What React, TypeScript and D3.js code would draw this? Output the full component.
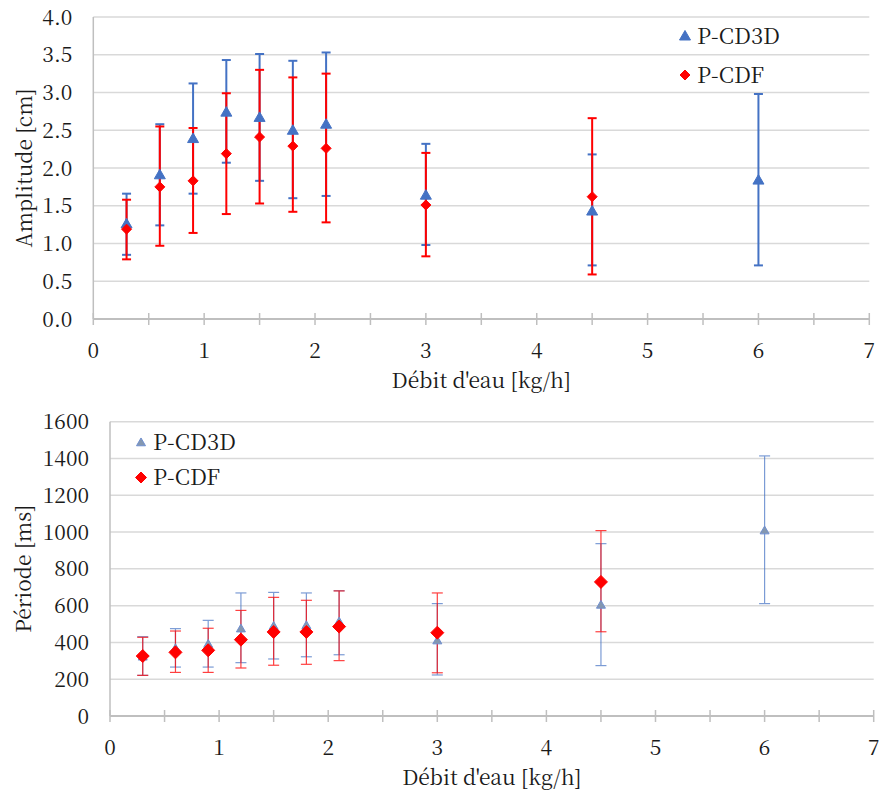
import React from "react";
import * as d3 from "d3";

// ---------- Data ----------
const xCd3d = [0.3, 0.6, 0.9, 1.2, 1.5, 1.8, 2.1, 3, 4.5, 6];
const xCdf = [0.3, 0.6, 0.9, 1.2, 1.5, 1.8, 2.1, 3, 4.5];

// Amplitude [cm]
const ampCd3d = [1.26, 1.91, 2.39, 2.74, 2.67, 2.5, 2.58, 1.64, 1.43, 1.84];
const ampCd3dHigh = [1.66, 2.58, 3.12, 3.43, 3.51, 3.42, 3.53, 2.32, 2.18, 2.98];
const ampCd3dLow = [0.85, 1.24, 1.66, 2.07, 1.83, 1.6, 1.63, 0.98, 0.71, 0.71];
const ampCdf = [1.19, 1.75, 1.83, 2.19, 2.41, 2.29, 2.26, 1.51, 1.62];
const ampCdfHigh = [1.58, 2.55, 2.53, 2.99, 3.3, 3.2, 3.25, 2.2, 2.66];
const ampCdfLow = [0.79, 0.97, 1.14, 1.39, 1.53, 1.42, 1.28, 0.83, 0.59];

// Période [ms]
const perCd3d = [322, 368, 391, 475, 489, 493, 513, 410, 604, 1008];
const perCd3dHigh = [431, 475, 520, 669, 672, 669, 681, 611, 937, 1414];
const perCd3dLow = [221, 266, 266, 290, 310, 322, 333, 223, 274, 611];
const perCdf = [326, 346, 357, 415, 457, 457, 486, 453, 729];
const perCdfHigh = [428, 462, 477, 574, 645, 629, 680, 669, 1008];
const perCdfLow = [221, 237, 237, 261, 276, 281, 301, 235, 458];

const xTicks = [0, 1, 2, 3, 4, 5, 6, 7];
const xMinorTicks = [0, 0.5, 1, 1.5, 2, 2.5, 3, 3.5, 4, 4.5, 5, 5.5, 6, 6.5, 7];
const ampTicks = [0, 0.5, 1, 1.5, 2, 2.5, 3, 3.5, 4];
const perTicks = [0, 200, 400, 600, 800, 1000, 1200, 1400, 1600];

const seriesNames = ["P-CD3D", "P-CDF"];
const xTitle = "Débit d'eau [kg/h]";
const ampTitle = "Amplitude [cm]";
const perTitle = "Période [ms]";

const FONT = "Noto Serif CJK JP";

type Series = {
  xs: number[];
  ys: number[];
  hi: number[];
  lo: number[];
  kind: "triangle" | "diamond";
  fill: string;
  stroke: string;
  size: number;
  barColor: string;
  barWidth: number;
  barOpacity: number;
  capW: number;
};

function markerPath(kind: "triangle" | "diamond", w: number) {
  if (kind === "diamond") {
    const h = w / 2;
    return `M0,${-h}L${h},0L0,${h}L${-h},0Z`;
  }
  const h = (w * Math.sqrt(3)) / 2;
  return `M0,${-h * 0.58}L${w / 2},${h * 0.42}L${-w / 2},${h * 0.42}Z`;
}

type ChartProps = {
  x0: number;
  x1: number;
  yTop: number;
  yBottom: number;
  yMax: number;
  yTicks: number[];
  yFmt: (v: number) => string;
  yTitle: string;
  yTitleX: number;
  series: Series[];
  legendX: number;
  legendY: number;
  legendGap: number;
  legendMarkerW: number[];
};

function Chart(p: ChartProps) {
  const x = d3.scaleLinear().domain([0, 7]).range([p.x0, p.x1]);
  const y = d3.scaleLinear().domain([0, p.yMax]).range([p.yBottom, p.yTop]);
  return (
    <g>
      {p.yTicks.map((t) =>
        t === 0 ? null : (
          <line key={"g" + t} x1={p.x0} x2={p.x1} y1={y(t)} y2={y(t)} stroke="#d9d9d9" strokeWidth={1.5} />
        )
      )}
      <line x1={p.x0} x2={p.x0} y1={p.yTop} y2={p.yBottom} stroke="#bfbfbf" strokeWidth={1.5} />
      <line x1={p.x0} x2={p.x1} y1={p.yBottom} y2={p.yBottom} stroke="#bfbfbf" strokeWidth={2} />
      {xMinorTicks.map((t) => (
        <line key={"t" + t} x1={x(t)} x2={x(t)} y1={p.yBottom - 6} y2={p.yBottom + 6} stroke="#bfbfbf" strokeWidth={1.5} />
      ))}
      {p.yTicks.map((t) => (
        <text key={"yl" + t} x={p.x0 - 21} y={y(t)} dy="0.36em" textAnchor="end" fontFamily={FONT} fontSize={21} fill="#1a1a1a">
          {p.yFmt(t)}
        </text>
      ))}
      {xTicks.map((t) => (
        <text key={"xl" + t} x={x(t)} y={p.yBottom + 31} dy="0.36em" textAnchor="middle" fontFamily={FONT} fontSize={21} fill="#1a1a1a">
          {t}
        </text>
      ))}
      <text x={(p.x0 + p.x1) / 2} y={p.yBottom + 61} dy="0.36em" textAnchor="middle" fontFamily={FONT} fontSize={21} fill="#1a1a1a">
        {xTitle}
      </text>
      <text
        transform={`translate(${p.yTitleX},${(p.yTop + p.yBottom) / 2}) rotate(-90)`}
        dy="0.36em"
        textAnchor="middle"
        fontFamily={FONT}
        fontSize={21}
        fill="#1a1a1a"
      >
        {p.yTitle}
      </text>
      {p.series.map((s, si) => (
        <g key={"s" + si}>
          {s.xs.map((xv, i) => (
            <g key={"e" + i} stroke={s.barColor} strokeWidth={s.barWidth} opacity={s.barOpacity}>
              <line x1={x(xv)} x2={x(xv)} y1={y(s.lo[i])} y2={y(s.hi[i])} />
              <line x1={x(xv) - s.capW / 2} x2={x(xv) + s.capW / 2} y1={y(s.hi[i])} y2={y(s.hi[i])} />
              <line x1={x(xv) - s.capW / 2} x2={x(xv) + s.capW / 2} y1={y(s.lo[i])} y2={y(s.lo[i])} />
            </g>
          ))}
        </g>
      ))}
      {p.series.map((s, si) => (
        <g key={"m" + si}>
          {s.xs.map((xv, i) => (
            <path
              key={"p" + i}
              d={markerPath(s.kind, s.size)}
              transform={`translate(${x(xv)},${y(s.ys[i])})`}
              fill={s.fill}
              stroke={s.stroke}
              strokeWidth={1}
            />
          ))}
        </g>
      ))}
      {p.series.map((s, si) => (
        <g key={"l" + si} transform={`translate(${p.legendX},${p.legendY + si * p.legendGap})`}>
          <path d={markerPath(s.kind, p.legendMarkerW[si])} fill={s.fill} stroke={s.stroke} strokeWidth={1} />
          <text x={12} dy="0.36em" fontFamily={FONT} fontSize={22} fill="#1a1a1a">
            {seriesNames[si]}
          </text>
        </g>
      ))}
    </g>
  );
}

export default function App() {
  const topSeries: Series[] = [
    { xs: xCd3d, ys: ampCd3d, hi: ampCd3dHigh, lo: ampCd3dLow, kind: "triangle", fill: "#4472c4", stroke: "#4472c4", size: 11, barColor: "#4472c4", barWidth: 2, barOpacity: 1, capW: 9 },
    { xs: xCdf, ys: ampCdf, hi: ampCdfHigh, lo: ampCdfLow, kind: "diamond", fill: "#ff0000", stroke: "#ff0000", size: 10, barColor: "#ff0000", barWidth: 2, barOpacity: 1, capW: 9 },
  ];
  const botSeries: Series[] = [
    { xs: xCd3d, ys: perCd3d, hi: perCd3dHigh, lo: perCd3dLow, kind: "triangle", fill: "#8497b0", stroke: "#6f8fd0", size: 9, barColor: "#4472c4", barWidth: 1.2, barOpacity: 0.7, capW: 11 },
    { xs: xCdf, ys: perCdf, hi: perCdfHigh, lo: perCdfLow, kind: "diamond", fill: "#ff0000", stroke: "#ff0000", size: 13, barColor: "#ff0000", barWidth: 1.2, barOpacity: 0.75, capW: 11 },
  ];
  return (
    <svg width={892} height={790} style={{ position: "absolute", left: 0, top: 0, background: "#fff" }}>
      <rect width={892} height={790} fill="#fff" />
      <Chart
        x0={93.3}
        x1={869.3}
        yTop={17}
        yBottom={319}
        yMax={4}
        yTicks={ampTicks}
        yFmt={(v) => v.toFixed(1)}
        yTitle={ampTitle}
        yTitleX={24}
        series={topSeries}
        legendX={685}
        legendY={36}
        legendGap={39}
        legendMarkerW={[11, 10]}
      />
      <Chart
        x0={110}
        x1={873.7}
        yTop={421.7}
        yBottom={716}
        yMax={1600}
        yTicks={perTicks}
        yFmt={(v) => String(v)}
        yTitle={perTitle}
        yTitleX={23}
        series={botSeries}
        legendX={141}
        legendY={442.5}
        legendGap={35}
        legendMarkerW={[9, 11]}
      />
    </svg>
  );
}
